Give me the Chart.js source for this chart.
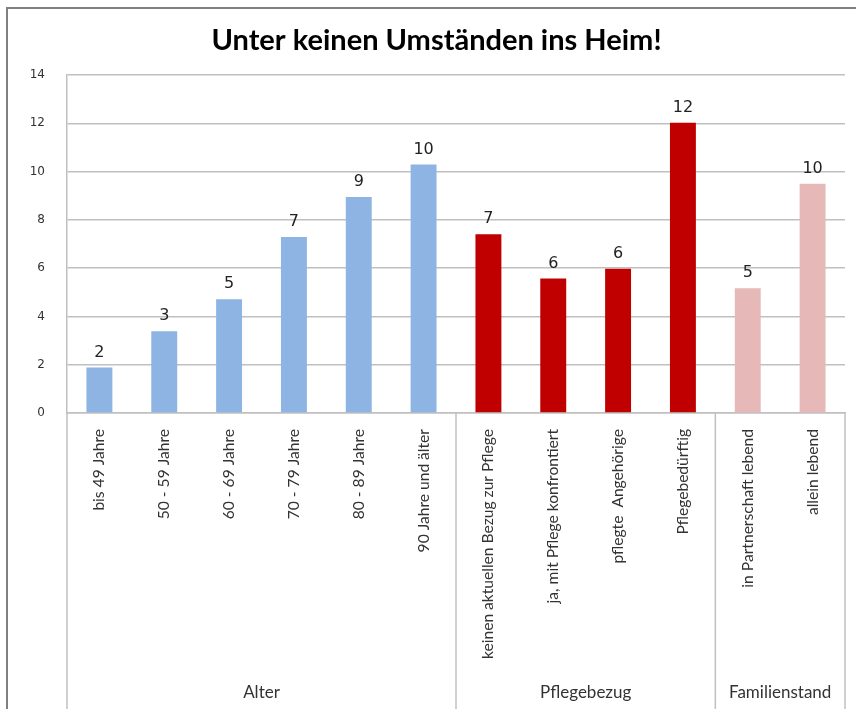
<!DOCTYPE html>
<html lang="de">
<head>
<meta charset="UTF-8">
<title>Unter keinen Umständen ins Heim!</title>
<script src="https://cdn.jsdelivr.net/npm/chart.js"></script>
<style>
  html, body { margin: 0; padding: 0; background: #fff; }
</style>
</head>
<body>
<canvas id="grafico" width="856" height="709"></canvas>
<script>
// Daten
var kategorien = ['bis 49 Jahre', '50 - 59 Jahre', '60 - 69 Jahre', '70 - 79 Jahre', '80 - 89 Jahre', '90 Jahre und älter',
    'keinen aktuellen Bezug zur Pflege', 'ja, mit Pflege konfrontiert', 'pflegte  Angehörige', 'Pflegebedürftig',
    'in Partnerschaft lebend', 'allein lebend'];
var werte = [1.88, 3.39, 4.71, 7.29, 8.95, 10.29, 7.40, 5.57, 5.98, 12.02, 5.17, 9.50];
var beschriftung = [2, 3, 5, 7, 9, 10, 7, 6, 6, 12, 5, 10];
var gruppen = ['Alter', 'Pflegebezug', 'Familienstand'];
var gruppenAnzahl = [6, 4, 2];
var gruppenFarben = ['#8DB4E2', '#C00000', '#E6B9B8'];
var yTicks = [0, 2, 4, 6, 8, 10, 12, 14];

var balkenFarben = [];
for (var g = 0; g < gruppen.length; g++) {
    for (var k = 0; k < gruppenAnzahl[g]; k++) balkenFarben.push(gruppenFarben[g]);
}

var linienFarbe = '#c0c0c0';
var textFarbe = '#333';

var extras = {
    id: 'extras',
    beforeDraw: function (chart) {
        var c = chart.ctx;
        c.save();
        c.fillStyle = '#fff';
        c.fillRect(0, 0, chart.width, chart.height);
        c.strokeStyle = '#808080';
        c.lineWidth = 2;
        c.strokeRect(7, 8, chart.width + 20, chart.height + 20);
        c.restore();
    },
    afterDatasetsDraw: function (chart) {
        var c = chart.ctx;
        var meta = chart.getDatasetMeta(0);
        var x = chart.scales.x;
        var area = chart.chartArea;
        c.save();
        // Werte über den Balken
        c.fillStyle = '#222';
        c.font = '16px "DejaVu Sans"';
        c.textAlign = 'center';
        c.textBaseline = 'alphabetic';
        meta.data.forEach(function (bar, i) {
            c.fillText(String(beschriftung[i]), bar.x, bar.y - 11);
        });
        // Gruppentrenner und Gruppennamen
        var breite = (x.getPixelForValue(1) - x.getPixelForValue(0));
        c.strokeStyle = linienFarbe;
        c.lineWidth = 1.5;
        c.font = '17px Lato';
        c.fillStyle = textFarbe;
        c.textBaseline = 'middle';
        var start = 0;
        var links = x.getPixelForValue(0) - breite / 2;
        c.beginPath();
        c.moveTo(links, area.bottom);
        c.lineTo(links, chart.height);
        c.stroke();
        for (var g = 0; g < gruppen.length; g++) {
            var ende = start + gruppenAnzahl[g];
            var x0 = x.getPixelForValue(start) - breite / 2;
            var x1 = x.getPixelForValue(ende - 1) + breite / 2;
            c.beginPath();
            c.moveTo(x1, area.bottom);
            c.lineTo(x1, chart.height);
            c.stroke();
            c.fillText(gruppen[g], (x0 + x1) / 2, 693);
            start = ende;
        }
        c.restore();
    }
};

new Chart(document.getElementById('grafico').getContext('2d'), {
    type: 'bar',
    data: {
        labels: kategorien,
        datasets: [{
            data: werte,
            backgroundColor: balkenFarben,
            borderWidth: 0,
            categoryPercentage: 1,
            barPercentage: 0.4
        }]
    },
    options: {
        responsive: false,
        animation: false,
        devicePixelRatio: 1,
        layout: { padding: { top: 0, left: 28, right: 11, bottom: 0 } },
        plugins: {
            legend: { display: false },
            tooltip: { enabled: false },
            title: {
                display: true,
                text: 'Unter keinen Umständen ins Heim!',
                color: '#000',
                font: { family: 'Lato', size: 29, weight: 'bold' },
                padding: { top: 23, bottom: 17.2 }
            }
        },
        scales: {
            x: {
                grid: { display: false, drawTicks: false },
                border: { display: true, color: linienFarbe, width: 1.5 },
                ticks: {
                    autoSkip: false, minRotation: 90, maxRotation: 90, padding: 16,
                    color: textFarbe, font: { family: 'Lato', size: 15.6 }
                },
                afterFit: function (s) { s.height = 296; }
            },
            y: {
                min: 0, max: 14,
                afterBuildTicks: function (s) { s.ticks = yTicks.map(function (v) { return { value: v }; }); },
                grid: { color: linienFarbe, lineWidth: 1.5, drawTicks: false },
                border: { display: true, color: linienFarbe, width: 1.5 },
                ticks: { padding: 22, color: textFarbe, font: { family: 'DejaVu Sans', size: 12 } },
                afterFit: function (s) { s.width = 39; }
            }
        }
    },
    plugins: [extras]
});
</script>
</body>
</html>
